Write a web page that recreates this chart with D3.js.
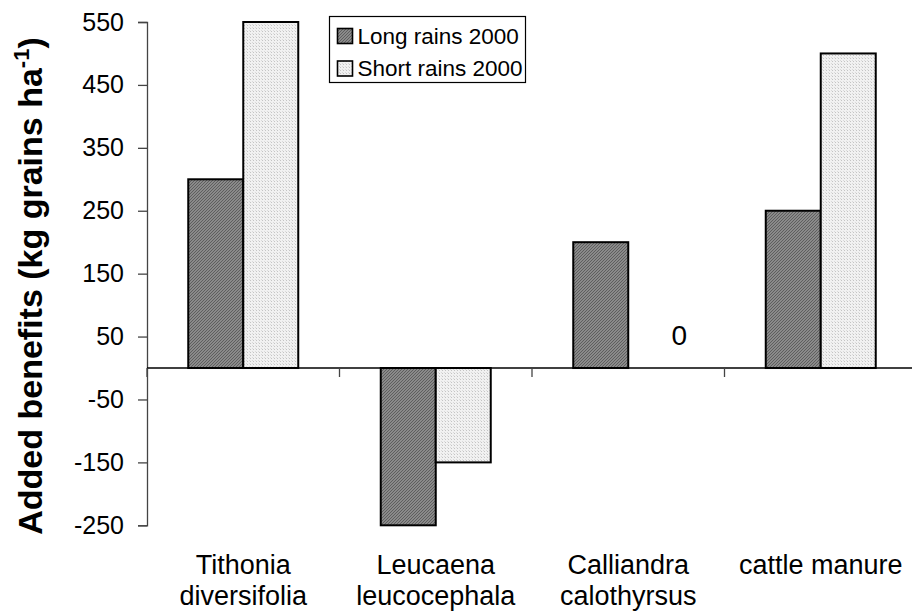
<!DOCTYPE html>
<html><head><meta charset="utf-8">
<script src="https://cdn.jsdelivr.net/npm/d3@7"></script>
<style>
html,body{margin:0;padding:0;background:#fff;}
svg{display:block;font-family:"Liberation Sans",Arial,sans-serif;}
</style></head>
<body>
<svg id="chart" width="912" height="613"></svg>
<script>
const categories = [["Tithonia","diversifolia"],["Leucaena","leucocephala"],["Calliandra","calothyrsus"],["cattle manure"]];
const series = ["Long rains 2000","Short rains 2000"];
const longRains = [300,-250,200,250];
const shortRains = [550,-150,0,500];
const yTicks = [550,450,350,250,150,50,-50,-150,-250];

const svg = d3.select("#chart");
const plotLeft = 147, plotRight = 917, plotTop = 22, plotBottom = 525.3;

const defs = svg.append("defs");
const p1 = defs.append("pattern").attr("id","darkPat").attr("patternUnits","userSpaceOnUse").attr("width",3).attr("height",3);
p1.append("rect").attr("width",3).attr("height",3).attr("fill","#8a8a8a");
p1.append("path").attr("d","M0,3 L3,0").attr("stroke","#5e5e5e").attr("stroke-width",1);
const p2 = defs.append("pattern").attr("id","lightPat").attr("patternUnits","userSpaceOnUse").attr("width",3).attr("height",3);
p2.append("rect").attr("width",3).attr("height",3).attr("fill","#f1f1f1");
p2.append("rect").attr("width",1).attr("height",1).attr("x",1).attr("y",1).attr("fill","#c4c4c4");
p2.append("rect").attr("width",1).attr("height",1).attr("x",0).attr("y",0).attr("fill","#dadada");
const fills = ["url(#darkPat)","url(#lightPat)"];

const catKeys = categories.map(c => c.join(" "));
const x = d3.scaleBand().domain(catKeys).range([plotLeft, plotRight]).padding(0);
const x1 = d3.scaleBand().domain(series).range([0, x.bandwidth()]).paddingInner(0).paddingOuter(0.75);
const y = d3.scaleLinear().domain([-250, 550]).range([plotBottom, plotTop]);

// y axis
const yAxis = svg.append("g").attr("transform",`translate(${plotLeft},0)`)
  .call(d3.axisLeft(y).tickValues(yTicks).tickSize(9).tickPadding(14).tickFormat(d => String(d)));
yAxis.select(".domain").attr("stroke","#444").attr("stroke-width",1.3);
yAxis.selectAll(".tick line").attr("stroke","#444").attr("stroke-width",1.3);
yAxis.selectAll(".tick text").attr("font-size",25).attr("fill","#000").attr("font-family","Liberation Sans, Arial, sans-serif");

// bars
const data = catKeys.map((k,i)=>({cat:k, vals:[longRains[i], shortRains[i]]}));
const g = svg.append("g");
data.forEach(d=>{
  d.vals.forEach((v,j)=>{
    if (v === 0) return;
    g.append("rect")
      .attr("x", x(d.cat) + x1(series[j]))
      .attr("width", x1.bandwidth())
      .attr("y", y(Math.max(0,v)))
      .attr("height", Math.abs(y(v)-y(0)))
      .attr("fill", fills[j])
      .attr("stroke","#000").attr("stroke-width",2);
  });
});

// zero label
data.forEach(d=>{
  d.vals.forEach((v,j)=>{
    if (v === 0) {
      svg.append("text")
        .attr("x", x(d.cat) + x1(series[j]) + x1.bandwidth()/2 + 23.5)
        .attr("y", y(0) - 23)
        .attr("text-anchor","middle").attr("font-size",28).text("0");
    }
  });
});

// x axis at zero
const xAxis = svg.append("g").attr("transform",`translate(0,${y(0)})`);
xAxis.append("line").attr("x1",plotLeft).attr("x2",plotRight).attr("y1",0).attr("y2",0).attr("stroke","#000").attr("stroke-width",1.5);
const bounds = catKeys.map(k=>x(k)).concat([plotRight]);
xAxis.selectAll(".bt").data(bounds).join("line")
  .attr("x1",d=>d).attr("x2",d=>d).attr("y1",0).attr("y2",9)
  .attr("stroke","#444").attr("stroke-width",1.3);

// category labels
categories.forEach((c,i)=>{
  const cx = x(catKeys[i]) + x.bandwidth()/2;
  const t = svg.append("text").attr("text-anchor","middle").attr("font-size",27)
    .attr("x", cx).attr("y", 574);
  c.forEach((line,li)=>{
    t.append("tspan").attr("x", cx).attr("dy", li===0?0:31).text(line);
  });
});

// y title
const title = svg.append("text").attr("transform","translate(42,286) rotate(-90)")
  .attr("text-anchor","middle").attr("font-size",34).attr("font-weight","bold");
title.append("tspan").text("Added benefits (kg grains ha");
title.append("tspan").attr("font-size",22).attr("dy",-13).text("-1");
title.append("tspan").attr("dy",13).text(")");

// legend
const lg = svg.append("g");
lg.append("rect").attr("x",329.5).attr("y",16.5).attr("width",196).attr("height",66).attr("fill","#fff").attr("stroke","#000").attr("stroke-width",1.2);
series.forEach((s,i)=>{
  lg.append("rect").attr("x",337.5).attr("y",28.5+i*32.5).attr("width",15).attr("height",15)
    .attr("fill",fills[i]).attr("stroke","#000").attr("stroke-width",1.6);
  lg.append("text").attr("x",357.5).attr("y",43.5+i*32.5).attr("font-size",22.5).text(s);
});
</script>
</body></html>
